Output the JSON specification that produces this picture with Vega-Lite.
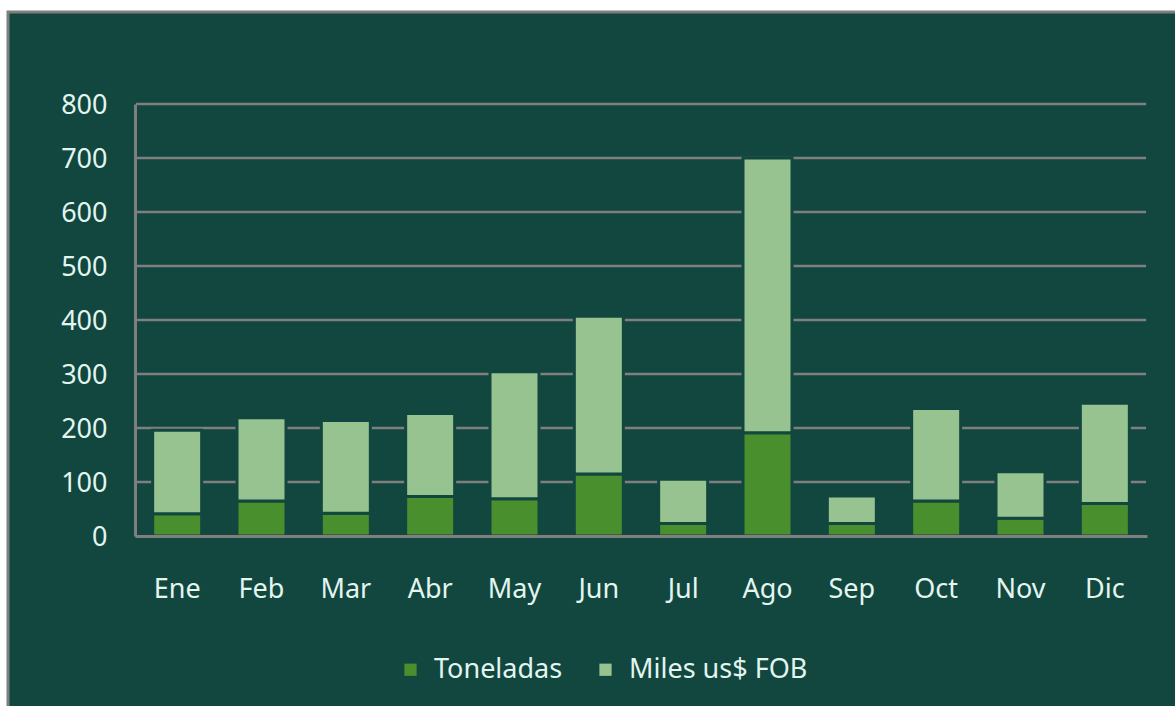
{"$schema":"https://vega.github.io/schema/vega-lite/v6.json","width":1171,"height":698,"padding":{"left":8,"top":12,"right":0,"bottom":0},"autosize":"none","background":"#ffffff","view":{"fill":"#12473F","stroke":"#7f7f7f","strokeWidth":3},
"data":{"values":[
{"mes":"Ene","serie":"Toneladas","valor":41},{"mes":"Ene","serie":"Miles us$ FOB","valor":155},
{"mes":"Feb","serie":"Toneladas","valor":65},{"mes":"Feb","serie":"Miles us$ FOB","valor":154},
{"mes":"Mar","serie":"Toneladas","valor":42},{"mes":"Mar","serie":"Miles us$ FOB","valor":172},
{"mes":"Abr","serie":"Toneladas","valor":73},{"mes":"Abr","serie":"Miles us$ FOB","valor":154},
{"mes":"May","serie":"Toneladas","valor":69},{"mes":"May","serie":"Miles us$ FOB","valor":235},
{"mes":"Jun","serie":"Toneladas","valor":115},{"mes":"Jun","serie":"Miles us$ FOB","valor":292},
{"mes":"Jul","serie":"Toneladas","valor":23},{"mes":"Jul","serie":"Miles us$ FOB","valor":82},
{"mes":"Ago","serie":"Toneladas","valor":191},{"mes":"Ago","serie":"Miles us$ FOB","valor":509},
{"mes":"Sep","serie":"Toneladas","valor":23},{"mes":"Sep","serie":"Miles us$ FOB","valor":51},
{"mes":"Oct","serie":"Toneladas","valor":65},{"mes":"Oct","serie":"Miles us$ FOB","valor":171},
{"mes":"Nov","serie":"Toneladas","valor":33},{"mes":"Nov","serie":"Miles us$ FOB","valor":86},
{"mes":"Dic","serie":"Toneladas","valor":60},{"mes":"Dic","serie":"Miles us$ FOB","valor":186}
]},
"layer":[
{"data":{"values":[{"g":100},{"g":200},{"g":300},{"g":400},{"g":500},{"g":600},{"g":700},{"g":800}]},
"mark":{"type":"rule","color":"#7f7f7f","strokeWidth":2.5},
"encoding":{"y":{"field":"g","type":"quantitative"},"x":{"datum":"Ene","bandPosition":-0.39},"x2":{"datum":"Dic","bandPosition":1.39}}},
{"mark":{"type":"bar","stroke":"#12473F","strokeWidth":3,"width":49},
"encoding":{
"x":{"field":"mes","type":"nominal","sort":["Ene","Feb","Mar","Abr","May","Jun","Jul","Ago","Sep","Oct","Nov","Dic"],"title":null,
"scale":{"range":[127,1139],"paddingInner":0.45,"paddingOuter":0.225,"domain":["Ene","Feb","Mar","Abr","May","Jun","Jul","Ago","Sep","Oct","Nov","Dic"]},
"axis":{"offset":-174,"zindex":1,"labelAngle":0,"labelAlign":"center","domainColor":"#7f7f7f","domainWidth":3,"ticks":false,"labelPadding":53,"labelFont":"Noto Sans","labelFontSize":27,"labelColor":"#E3F5EF","labelBaseline":"middle","grid":false}},
"y":{"field":"valor","type":"quantitative","stack":"zero","title":null,
"scale":{"domain":[0,800],"range":[524,92],"nice":false},
"axis":{"offset":-127,"zindex":1,"values":[0,100,200,300,400,500,600,700,800],"domainColor":"#7f7f7f","domainWidth":3,"ticks":false,"labelPadding":28,"labelOffset":1,"labelFont":"Noto Sans","labelFontSize":27,"labelColor":"#E3F5EF","grid":false}},
"color":{"field":"serie","type":"nominal","scale":{"domain":["Toneladas","Miles us$ FOB"],"range":["#4A8F2D","#96C38F"]},
"legend":{"title":null,"orient":"none","direction":"horizontal","legendX":389,"legendY":644,"symbolType":"square","symbolSize":150,"symbolStrokeWidth":0,"labelFont":"Noto Sans","labelFontSize":27,"labelColor":"#E3F5EF","columnPadding":29,"labelOffset":10,"labelLimit":0}}
}}
]}
